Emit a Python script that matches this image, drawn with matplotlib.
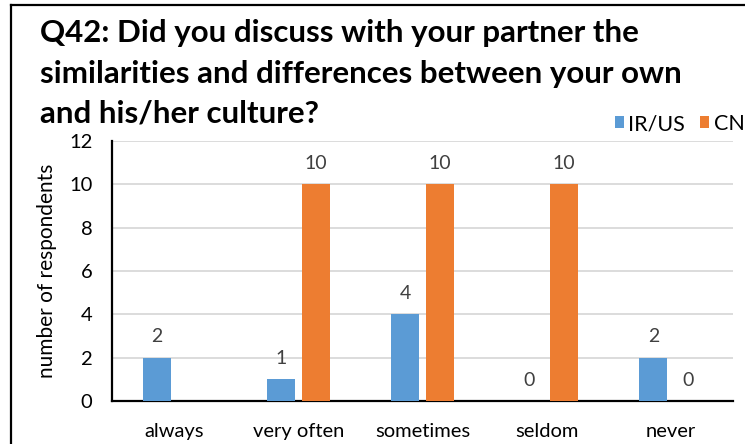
import matplotlib
matplotlib.use("Agg")
import matplotlib.pyplot as plt
from matplotlib.lines import Line2D
import numpy as np

categories = ["always", "very often", "sometimes", "seldom", "never"]
ir_us = [2, 1, 4, 0, 2]
cn = [None, 10, 10, 10, 0]  # no CN answer recorded for "always"
series_names = ["IR/US", "CN"]
y_ticks = [0, 2, 4, 6, 8, 10, 12]
title_lines = [
    "Q42: Did you discuss with your partner the",
    "similarities and differences between your own",
    "and his/her culture?",
]

BLUE = "#5B9BD5"
ORANGE = "#ED7D31"
TEXT = "#404040"
FONT = ["Lato", "DejaVu Sans"]

W, H = 745, 444
fig = plt.figure(figsize=(W / 100, H / 100), dpi=100)
plt.rcParams["font.family"] = FONT


def px(x, y):
    return x / W, 1 - y / H


# outer chart frame, only its left and top edges fall inside the image
fx, fy = px(11, 5)
fig.add_artist(Line2D([fx, fx], [-0.1, fy], transform=fig.transFigure, color="black", linewidth=1.6))
fig.add_artist(Line2D([fx, 1.1], [fy, fy], transform=fig.transFigure, color="black", linewidth=1.6))

ax = fig.add_axes([112 / W, (H - 401) / H, 621 / W, 260 / H])
x = np.arange(len(categories))
width = 0.225
offset = 0.141
cn_vals = [np.nan if v is None else v for v in cn]
b1 = ax.bar(x - offset, ir_us, width, color=BLUE, label=series_names[0], zorder=3)
b2 = ax.bar(x + offset, cn_vals, width, color=ORANGE, label=series_names[1], zorder=3)

for bars, vals in ((b1, ir_us), (b2, cn)):
    for rect, v in zip(bars, vals):
        if v is None:
            continue
        ax.annotate(str(v), (rect.get_x() + rect.get_width() / 2, v),
                    xytext=(0, 15), textcoords="offset points",
                    ha="center", va="center", fontsize=14, color=TEXT)

ax.set_xlim(-0.5, len(categories) - 0.5)
ax.set_ylim(0, 12)
ax.set_yticks(y_ticks)
ax.set_xticks(x)
ax.set_xticklabels(categories)
ax.tick_params(axis="both", length=0, labelsize=14.5, colors="black")
ax.tick_params(axis="x", pad=16)
ax.tick_params(axis="y", pad=14)
ax.yaxis.grid(True, color="#D9D9D9", linewidth=1.3, zorder=0)
for side in ("top", "right"):
    ax.spines[side].set_visible(False)
for side in ("left", "bottom"):
    ax.spines[side].set_linewidth(1.6)
    ax.spines[side].set_color("black")
ax.set_ylabel("number of respondents", fontsize=15, labelpad=9)

ax.legend(loc="lower left", bbox_to_anchor=px(615, 134), bbox_transform=fig.transFigure,
          ncol=2, frameon=False, fontsize=15.5, handlelength=0.42, handleheight=0.5,
          handletextpad=0.2, columnspacing=0.7, borderpad=0, borderaxespad=0)

for line, base in zip(title_lines, (42, 83, 123)):
    fig.text(*px(40, base), line, fontsize=22.5, fontweight="bold",
             ha="left", va="baseline", color="black")

fig.savefig("out.png", dpi=100)
